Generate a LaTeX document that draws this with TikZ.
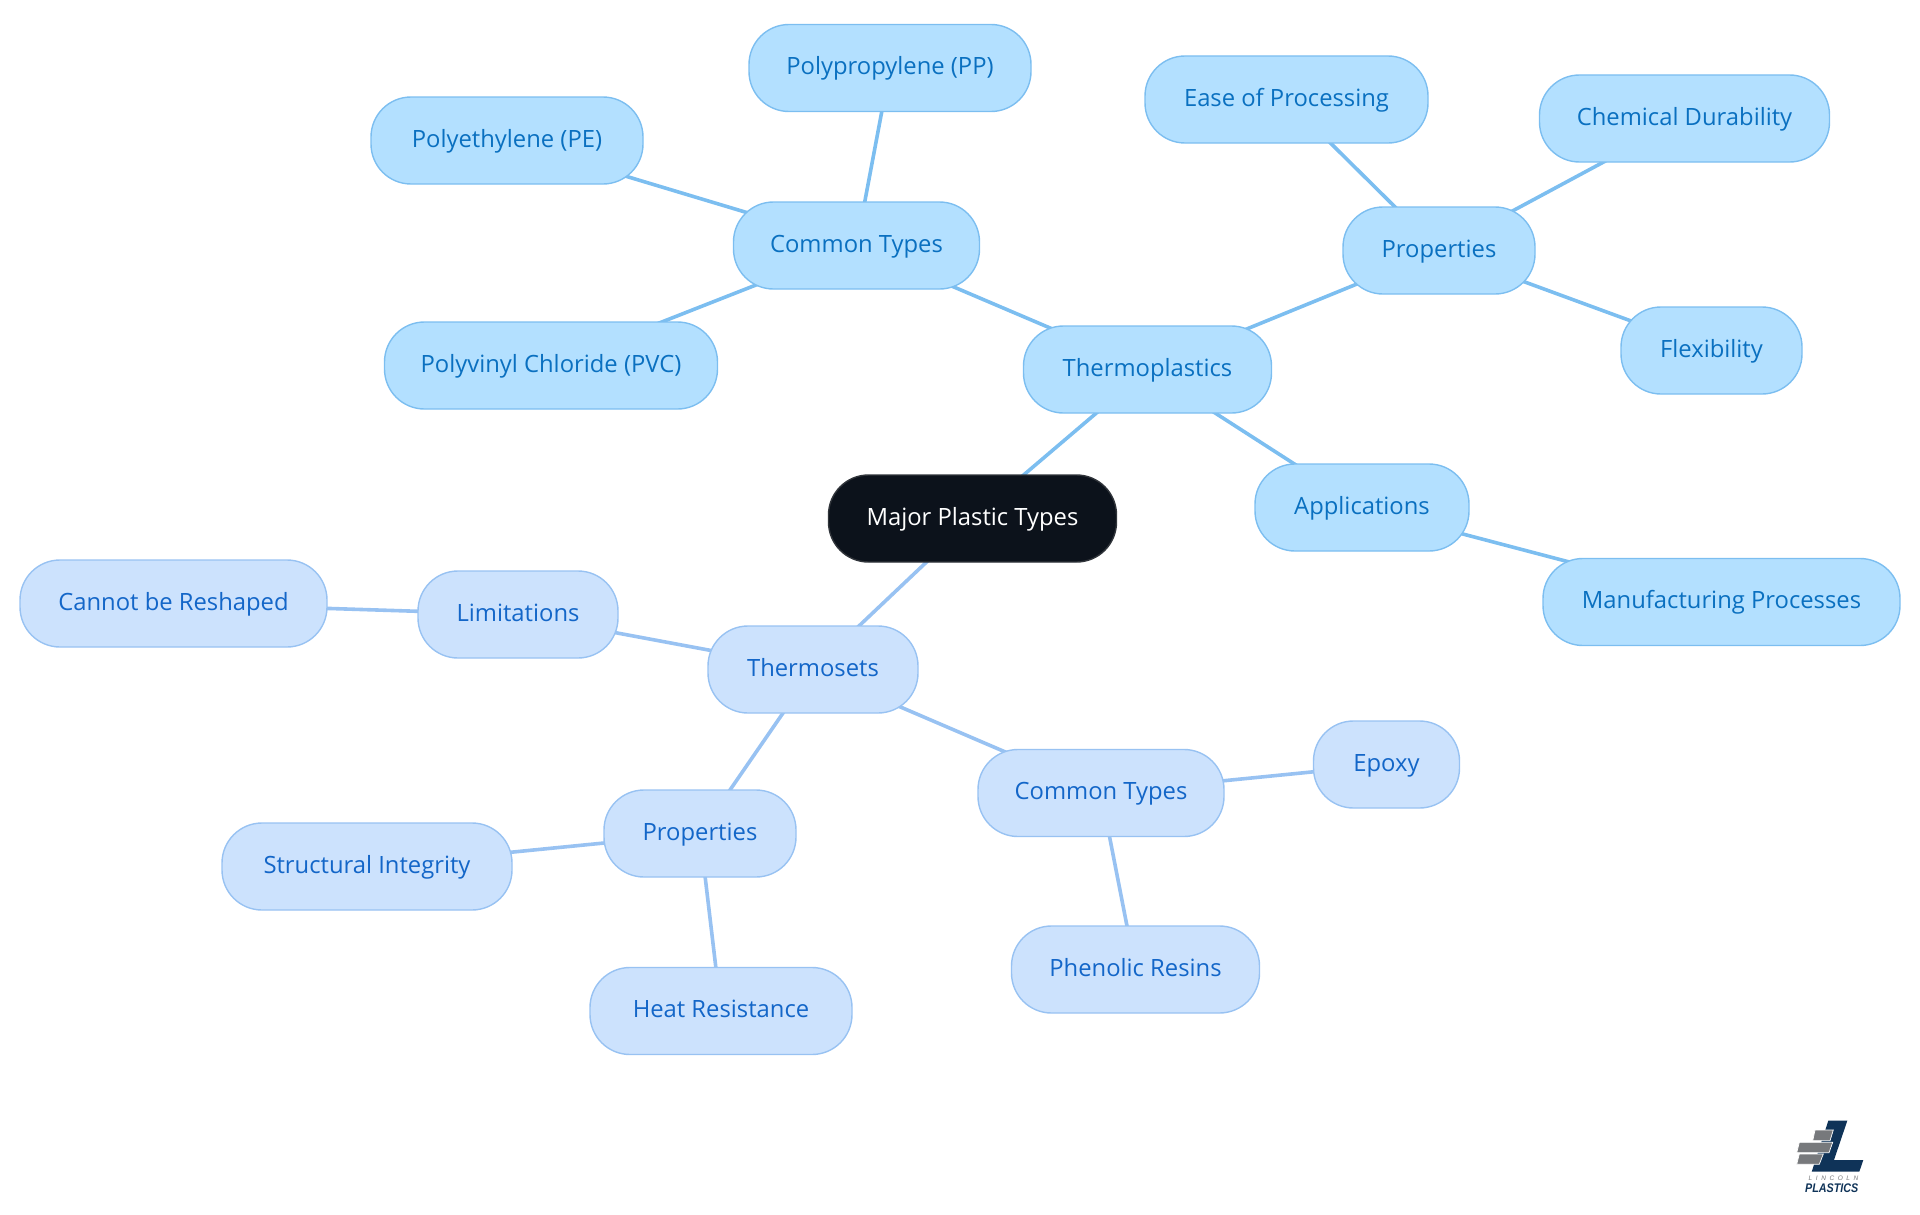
\documentclass[tikz,border=0pt]{standalone}
\usepackage{graphicx}
\usepackage{fontspec}
\setmainfont{Open Sans}
\newfontfamily\logofont{Liberation Sans}
\pgfdeclarelayer{back}
\pgfsetlayers{back,main}
\definecolor{tfill}{HTML}{B3E0FF}
\definecolor{tline}{HTML}{7CBEF0}
\definecolor{ttext}{HTML}{0A70C0}
\definecolor{sfill}{HTML}{CCE2FD}
\definecolor{sline}{HTML}{98C2F2}
\definecolor{stext}{HTML}{1366C8}
\definecolor{rootfill}{HTML}{0C121B}
\definecolor{rootline}{HTML}{30343A}
\definecolor{logoblue}{HTML}{0F3358}
\definecolor{logogray}{HTML}{77797C}
\tikzset{
  box/.style={rectangle,rounded corners=40pt,inner sep=0pt,line width=1.4pt,minimum height=87pt,
    text height=19.5pt,text depth=6pt,font=\fontsize{23.8}{28}\selectfont},
  tbox/.style={box,draw=tline,fill=tfill,text=ttext},
  sbox/.style={box,draw=sline,fill=sfill,text=stext},
  rootbox/.style={box,draw=rootline,fill=rootfill,text=white},
  tedge/.style={draw=tline,line width=3.6pt},
  sedge/.style={draw=sline,line width=3.6pt},
  brick/.style={fill=logogray,draw=white,line width=0.7pt},
  logolabel/.style={inner sep=0pt,anchor=west},
}
\begin{document}
\begin{tikzpicture}[x=1pt,y=-1pt]
\useasboundingbox (0,0) rectangle (1920,1215);
\node[rootbox,minimum width=288pt] (root) at (972.5,518.5) {Major Plastic Types};
\node[tbox,minimum width=248pt] (thermo) at (1147.5,369.5) {Thermoplastics};
\node[tbox,minimum width=246pt] (tcommon) at (856.5,245.5) {Common Types};
\node[tbox,minimum width=282pt] (pp) at (890,68) {Polypropylene (PP)};
\node[tbox,minimum width=272pt] (pe) at (507,140.5) {Polyethylene (PE)};
\node[tbox,minimum width=333pt] (pvc) at (551,365.5) {Polyvinyl Chloride (PVC)};
\node[tbox,minimum width=192pt] (tprops) at (1439,250.5) {Properties};
\node[tbox,minimum width=283pt] (ease) at (1286.5,99.5) {Ease of Processing};
\node[tbox,minimum width=290pt] (chem) at (1684.5,118.5) {Chemical Durability};
\node[tbox,minimum width=181pt] (flex) at (1711.5,350.5) {Flexibility};
\node[tbox,minimum width=214pt] (apps) at (1362,507.5) {Applications};
\node[tbox,minimum width=357pt] (manu) at (1721.5,602) {Manufacturing Processes};
\node[sbox,minimum width=210pt] (tsets) at (813,669.5) {Thermosets};
\node[sbox,minimum width=200pt] (limits) at (518,614.5) {Limitations};
\node[sbox,minimum width=307pt] (reshape) at (173.5,603.5) {Cannot be Reshaped};
\node[sbox,minimum width=246pt] (scommon) at (1101,793) {Common Types};
\node[sbox,minimum width=146pt] (epoxy) at (1386.5,764.5) {Epoxy};
\node[sbox,minimum width=248pt] (phenolic) at (1135.5,969.5) {Phenolic Resins};
\node[sbox,minimum width=192pt] (sprops) at (700,833.5) {Properties};
\node[sbox,minimum width=290pt] (struct) at (367,866.5) {Structural Integrity};
\node[sbox,minimum width=262pt] (heat) at (721,1011) {Heat Resistance};
\begin{pgfonlayer}{back}
\draw[tedge] (root.center) -- (thermo.center);
\draw[tedge] (thermo.center) -- (tcommon.center);
\draw[tedge] (thermo.center) -- (tprops.center);
\draw[tedge] (thermo.center) -- (apps.center);
\draw[tedge] (tcommon.center) -- (pp.center);
\draw[tedge] (tcommon.center) -- (pe.center);
\draw[tedge] (tcommon.center) -- (pvc.center);
\draw[tedge] (tprops.center) -- (ease.center);
\draw[tedge] (tprops.center) -- (chem.center);
\draw[tedge] (tprops.center) -- (flex.center);
\draw[tedge] (apps.center) -- (manu.center);
\draw[sedge] (root.center) -- (tsets.center);
\draw[sedge] (tsets.center) -- (limits.center);
\draw[sedge] (tsets.center) -- (sprops.center);
\draw[sedge] (tsets.center) -- (scommon.center);
\draw[sedge] (limits.center) -- (reshape.center);
\draw[sedge] (scommon.center) -- (epoxy.center);
\draw[sedge] (scommon.center) -- (phenolic.center);
\draw[sedge] (sprops.center) -- (struct.center);
\draw[sedge] (sprops.center) -- (heat.center);
\end{pgfonlayer}
% logo
\fill[logoblue] (1828.3,1120.7) -- (1847.3,1120.7) -- (1834,1160) -- (1863.3,1160) -- (1859.3,1171.7) -- (1811.7,1171.7) -- cycle;
\filldraw[brick] (1815,1130) -- (1833.3,1130) -- (1830,1140.7) -- (1812.7,1140.7) -- cycle;
\filldraw[brick] (1799.3,1142.3) -- (1832.7,1142.3) -- (1829,1152.7) -- (1796.7,1152.7) -- cycle;
\filldraw[brick] (1799.3,1154) -- (1823.3,1154) -- (1819.3,1164.3) -- (1796.7,1164.3) -- cycle;
\node[logolabel,text=logogray] (lincoln) at (1808.5,1178.5)
  {\logofont\itshape\fontsize{6.5}{7}\addfontfeatures{LetterSpace=55}LINCOLN};
\node[logolabel,text=logoblue] (plastics) at (1805,1188.5)
  {\scalebox{0.86}[1]{\logofont\bfseries\itshape\fontsize{12.5}{13}\selectfont PLASTICS}};
\end{tikzpicture}
\end{document}
